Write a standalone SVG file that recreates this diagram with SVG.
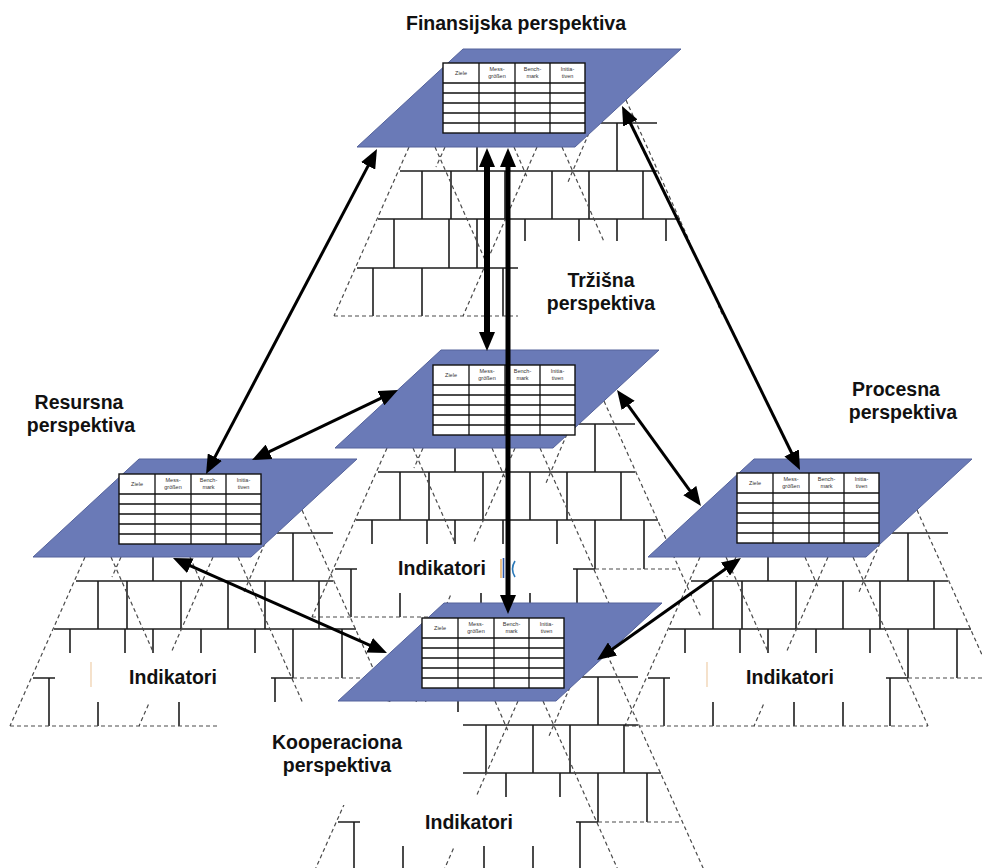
<svg xmlns="http://www.w3.org/2000/svg" xmlns:xlink="http://www.w3.org/1999/xlink" width="982" height="868" viewBox="0 0 982 868">
  <style>
    .br { stroke:#1e1e1e; stroke-width:1.6; fill:none; }
    .ds { stroke:#4a4a4a; stroke-width:1.2; stroke-dasharray:4 3; fill:none; }
    .plate { fill:#6a7ab7; stroke:#55639b; stroke-width:1; }
    .tb { fill:#fff; stroke:#111; stroke-width:1.4; }
    .tl { stroke:#111; stroke-width:1.3; fill:none; }
    .th { font-family:"Liberation Sans", Arial, sans-serif; font-size:5.5px; fill:#333; text-anchor:middle; }
    .lbl { font-family:"Liberation Sans", Arial, sans-serif; font-size:19.5px; font-weight:bold; fill:#111; text-anchor:middle; }
    .mask { fill:#fff; stroke:none; }
    .arr { stroke:#000; fill:none; marker-start:url(#ah); marker-end:url(#ah); }
  </style>
  <defs>
    <marker id="ah" viewBox="0 0 19 16" refX="9" refY="8" markerWidth="19" markerHeight="16" markerUnits="userSpaceOnUse" orient="auto-start-reverse">
      <path d="M0,0 L19,8 L0,16 Z" fill="#000"/>
    </marker>
    <!-- brick wall of indicators under a plate; origin = lower-left corner of the plate -->
    <g id="wall">
      <path class="br" d="M244,-24H300 M43,24H300 M21,72H323 M0,121H260
        M260,-24V24 M120,0V24
        M65,24V72 M94,24V72 M148,24V72 M195,24V72 M232,24V72 M286,24V72
        M37,72V121 M92,72V121 M120,72V121 M168,72V121 M222,72V121 M260,72V121 M309,72V121
        M16,121V169 M65,121V169 M146,121V169 M195,121V169 M242,121V169"/>
      <path class="ds" d="M260,121H345 M-23,169H280
        M52,0L-23,169 M78,0L129,115 M88,0L79,20 M180,0L106,169
        M157,0L170,30 M205,0L280,169 M232,-14L211,35 M269,-47L366,169"/>
    </g>
    <!-- perspective plate -->
    <path id="plate" class="plate" d="M0,0 H218 L324,-98 H106 Z"/>
    <!-- scorecard table; origin = top-left corner -->
    <g id="grid">
      <rect class="tb" x="0" y="0" width="142" height="70"/>
      <path class="tl" d="M0,20H142 M0,30H142 M0,40H142 M0,50H142 M0,60H142 M36,0V70 M72,0V70 M107,0V70"/>
      <text class="th" x="18" y="12">Ziele</text>
      <text class="th" x="54" y="8">Mess-</text>
      <text class="th" x="54" y="15">größen</text>
      <text class="th" x="89.5" y="8">Bench-</text>
      <text class="th" x="89.5" y="15">mark</text>
      <text class="th" x="124.5" y="8">Initia-</text>
      <text class="th" x="124.5" y="15">tiven</text>
    </g>
  </defs>

  <rect x="0" y="0" width="982" height="868" fill="#fff"/>

  <!-- financial perspective -->
  <g id="finansijska">
    <use xlink:href="#wall" x="357" y="147"/>
    <use xlink:href="#plate" x="357" y="147"/>
    <use xlink:href="#grid" x="443" y="63"/>
    <text class="lbl" x="516" y="30">Finansijska perspektiva</text>
  </g>

  <!-- market perspective -->
  <g id="trzisna">
    <rect class="mask" x="518" y="241" width="200" height="77"/>
    <text class="lbl" x="601" y="287">Tržišna</text>
    <text class="lbl" x="601" y="310">perspektiva</text>
    <use xlink:href="#wall" x="335" y="448"/>
    <use xlink:href="#plate" x="335" y="448"/>
    <use xlink:href="#grid" x="433" y="365"/>
    <rect class="mask" x="357" y="544" width="216" height="49"/>
    <text class="lbl" x="442" y="575">Indikatori</text>
    <path d="M501,559V578" stroke="#e3a24e" stroke-width="1.3"/>
    <path d="M503.5,558V578" stroke="#2a55a8" stroke-width="1.6"/>
    <path d="M515,561 Q510,569 515,577" stroke="#2a78b8" stroke-width="1.6" fill="none"/>
  </g>

  <!-- resource perspective -->
  <g id="resursna">
    <use xlink:href="#wall" x="33" y="557"/>
    <use xlink:href="#plate" x="33" y="557"/>
    <use xlink:href="#grid" x="119" y="474"/>
    <rect class="mask" x="55" y="653" width="216" height="49"/>
    <path d="M91,662V687" stroke="#f0d2b0" stroke-width="1.3"/>
    <text class="lbl" x="173" y="684">Indikatori</text>
    <text class="lbl" x="79" y="409">Resursna</text>
    <text class="lbl" x="81" y="432">perspektiva</text>
  </g>

  <!-- process perspective -->
  <g id="procesna">
    <use xlink:href="#wall" x="648" y="557"/>
    <use xlink:href="#plate" x="648" y="557"/>
    <use xlink:href="#grid" x="737" y="473"/>
    <rect class="mask" x="670" y="653" width="216" height="49"/>
    <path d="M707,662V687" stroke="#f0d2b0" stroke-width="1.3"/>
    <text class="lbl" x="790" y="684">Indikatori</text>
    <text class="lbl" x="896" y="396">Procesna</text>
    <text class="lbl" x="903" y="419">perspektiva</text>
  </g>

  <!-- cooperation perspective -->
  <g id="kooperaciona">
    <use xlink:href="#wall" x="338" y="701"/>
    <use xlink:href="#plate" x="338" y="701"/>
    <use xlink:href="#grid" x="422" y="618"/>
    <path class="mask" d="M217,702 H450 V712 H463 V805 H217 Z"/>
    <rect class="mask" x="360" y="797" width="216" height="49"/>
    <text class="lbl" x="469" y="829">Indikatori</text>
    <text class="lbl" x="337" y="749">Kooperaciona</text>
    <text class="lbl" x="337" y="772">perspektiva</text>
  </g>

  <!-- links between perspectives -->
  <g id="connectors">
    <line class="arr" stroke-width="3" x1="372.3" y1="157.9" x2="210.7" y2="465.1"/>
    <line class="arr" stroke-width="3" x1="261.0" y1="455.7" x2="389.0" y2="394.3"/>
    <line class="arr" stroke-width="6" x1="487" y1="158" x2="487" y2="341"/>
    <line class="arr" stroke-width="5" x1="508" y1="158" x2="508" y2="604"/>
    <line class="arr" stroke-width="3" x1="626.4" y1="115.0" x2="795.6" y2="461.0"/>
    <line class="arr" stroke-width="3" x1="622.9" y1="398.1" x2="695.1" y2="497.9"/>
    <line class="arr" stroke-width="3" x1="182.1" y1="562.1" x2="377.9" y2="648.9"/>
    <line class="arr" stroke-width="3" x1="732.8" y1="563.8" x2="605.2" y2="654.2"/>
  </g>
</svg>
